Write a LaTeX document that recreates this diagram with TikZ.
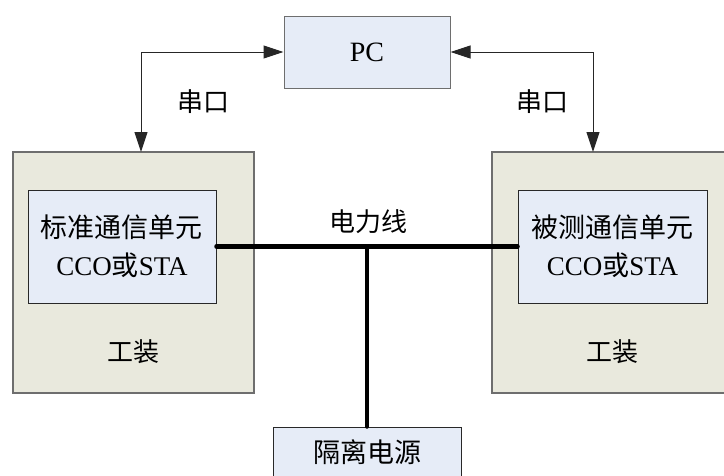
\documentclass[tikz,border=0pt]{standalone}
\usepackage{fontspec}
\setmainfont{Liberation Serif}
\newfontfamily\cjk{Noto Sans CJK SC}
\usetikzlibrary{arrows.meta}
\definecolor{outerfill}{RGB}{233,233,221}
\definecolor{innerfill}{RGB}{230,236,247}
\definecolor{outerline}{RGB}{110,110,110}
\definecolor{innerline}{RGB}{40,40,40}
\begin{document}
\begin{tikzpicture}[x=1pt,y=-1pt,
  outerbox/.style={draw=outerline,fill=outerfill,line width=1.2pt,inner sep=0pt},
  innerbox/.style={draw=innerline,fill=innerfill,line width=1pt,inner sep=0pt,align=center,
     font=\fontsize{27}{38}\selectfont},
  lbl/.style={font=\fontsize{26}{30}\selectfont\cjk,inner sep=0pt},
  serial/.style={line width=1pt,draw=black!85,{Triangle[length=20pt,width=13pt]}-{Triangle[length=20pt,width=13pt]}},
  power/.style={line width=4.5pt,line cap=round}]
\useasboundingbox (0,0) rectangle (724,475);
% PC
\node[innerbox,draw=outerline,minimum width=166pt,minimum height=72pt,
  font=\fontsize{28}{34}\selectfont] (pc) at (367,52) {PC};
% outer boxes
\node[outerbox,minimum width=241pt,minimum height=241pt] (lout) at (133.5,272.5) {};
\node[outerbox,minimum width=268pt,minimum height=241pt] (rout) at (626,272.5) {};
% inner boxes
\node[innerbox,minimum width=188pt,minimum height=113pt] (lin) at (122,246.5)
  {{\cjk 标准通信单元}\\CCO{\cjk 或}STA};
\node[innerbox,minimum width=189pt,minimum height=113pt] (rin) at (612.5,246.5)
  {{\cjk 被测通信单元}\\CCO{\cjk 或}STA};
% labels
\node[lbl] (lgz) at (133,352) {工装};
\node[lbl] (rgz) at (612,352) {工装};
\node[lbl] (lck) at (203,102) {串口};
\node[lbl] (rck) at (542,102) {串口};
\node[lbl] (dlx) at (368,222) {电力线};
% power supply
\node[innerbox,minimum width=188pt,minimum height=50pt] (psu) at (367,452)
  {\cjk 隔离电源};
% serial connectors
\coordinate (la) at (141,152);
\coordinate (ra) at (593,152);
\draw[serial] (pc.west) -| (la);
\draw[serial] (pc.east) -| (ra);
% power line
\coordinate (junc) at (367,246.5);
\draw[power] (lin.east) -- (rin.west);
\draw[power] (junc) -- (psu.north);
\end{tikzpicture}
\end{document}
